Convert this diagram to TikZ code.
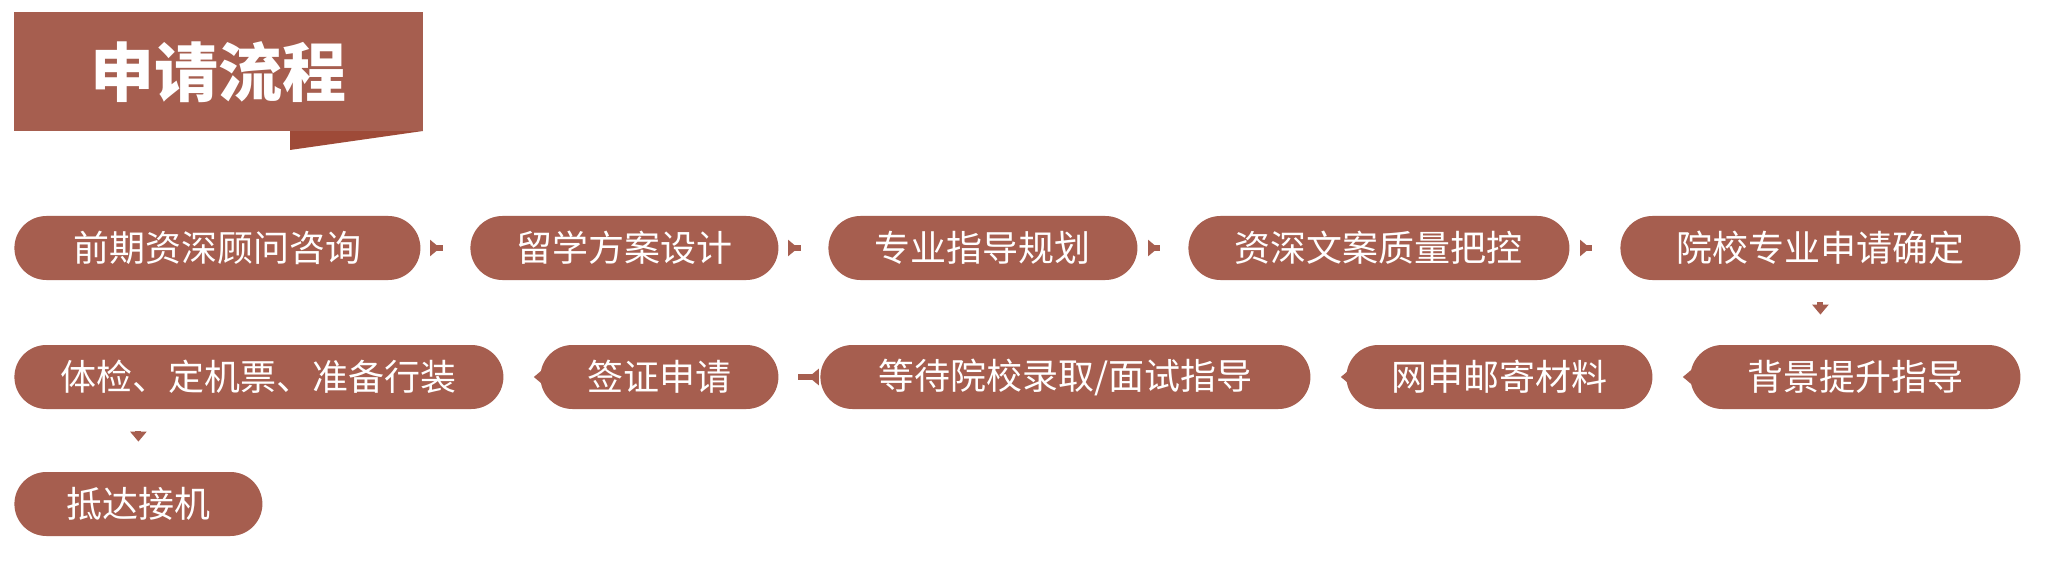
\documentclass[tikz,border=0pt]{standalone}
\usepackage{fontspec}
\newfontfamily\cjk{Noto Sans CJK SC}
\usetikzlibrary{arrows.meta}
\definecolor{br}{HTML}{A65E4F}
\definecolor{brd}{HTML}{9E4A38}
\begin{document}
\begin{tikzpicture}[x=0.5pt,y=-0.5pt,
  pill/.style={fill=br,rounded corners=16pt,minimum height=32pt,text=white,font=\cjk\fontsize{18}{20}\selectfont,inner sep=0pt,anchor=west},
  blk/.style={draw=br,line width=3pt,-{Triangle[width=8pt,length=5pt]},shorten >=15pt,shorten <=11pt}]
\useasboundingbox (0,0) rectangle (2054,572);
\fill[white] (0,0) rectangle (2054,572);
\fill[brd] (290,131) -- (423,131) -- (290,150) -- cycle;
\node[fill=br,minimum width=204.5pt,minimum height=59.5pt,inner sep=0pt,anchor=north west,text=white,font=\cjk\bfseries\fontsize{32}{34}\selectfont] (title) at (14,12) {申请流程};
\node[pill,minimum width=203pt] (n1) at (14,248) {前期资深顾问咨询};
\node[pill,minimum width=154pt] (n2) at (470,248) {留学方案设计};
\node[pill,minimum width=154.5pt] (n3) at (828,248) {专业指导规划};
\node[pill,minimum width=190.5pt] (n4) at (1188,248) {资深文案质量把控};
\node[pill,minimum width=200pt] (n5) at (1620,248) {院校专业申请确定};
\node[pill,minimum width=165pt] (n6) at (1690,377) {背景提升指导};
\node[pill,minimum width=153pt] (n7) at (1346,377) {网申邮寄材料};
\node[pill,minimum width=245pt] (n8) at (820,377) {等待院校录取/面试指导};
\node[pill,minimum width=119pt] (n9) at (540,377) {签证申请};
\node[pill,minimum width=244.5pt] (n10) at (14,377) {体检、定机票、准备行装};
\node[pill,minimum width=124pt] (n11) at (14,504) {抵达接机};
\draw[blk] (n1) -- (n2);
\draw[blk] (n2) -- (n3);
\draw[blk] (n3) -- (n4);
\draw[blk] (n4) -- (n5);
\draw[blk] (n5.south) -- (n5.south |- n6.north);
\draw[blk] (n6) -- (n7);
\draw[blk] (n7) -- (n8);
\draw[blk] (n8) -- (n9);
\draw[blk] (n9) -- (n10);
\draw[blk] (n10.south -| n11) -- (n11.north);
\end{tikzpicture}
\end{document}
